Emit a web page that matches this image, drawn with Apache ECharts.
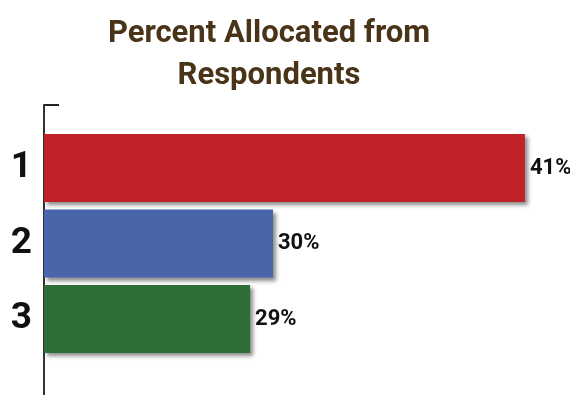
<!DOCTYPE html>
<html>
<head>
<meta charset="utf-8">
<script src="https://cdn.jsdelivr.net/npm/echarts@6/dist/echarts.min.js"></script>
<style>
  html, body { margin: 0; padding: 0; background: #fff; }
  #chart { width: 570px; height: 395px; }
</style>
</head>
<body>
<div id="chart"></div>
<script>
// Share of allocation reported by respondents, by rank
const categories = ['1', '2', '3'];
const percentValues = [41, 30, 29];
const barColors = ['#c1222a', '#4a66aa', '#2d6e38'];

const FONT = 'Roboto, "Liberation Sans", sans-serif';

const chart = echarts.init(document.getElementById('chart'), null, { renderer: 'canvas' });

chart.setOption({
  animation: false,
  backgroundColor: '#ffffff',
  title: {
    text: 'Percent Allocated from\nRespondents',
    left: 264,
    top: 8,
    textAlign: 'center',
    textStyle: {
      fontFamily: FONT,
      fontSize: 31,
      fontWeight: 'bold',
      color: '#4a3418',
      lineHeight: 42
    }
  },
  grid: [
    // frame carrying the long vertical axis line
    { left: 44, top: 105, width: 10, height: 330, outerBoundsMode: 'none' },
    // bars
    { left: 44, top: 130.25, right: 22.2, height: 226.5, outerBoundsMode: 'none' }
  ],
  xAxis: [
    { gridIndex: 0, type: 'value', show: false, min: 0, max: 1 },
    { gridIndex: 1, type: 'value', show: false, min: 20, max: 42 }
  ],
  yAxis: [
    {
      gridIndex: 0,
      type: 'value',
      min: 0,
      max: 1,
      interval: 1,
      axisLine: { show: true, lineStyle: { color: '#333', width: 2 } },
      axisTick: { show: true, inside: true, length: 15, lineStyle: { color: '#222', width: 2 } },
      axisLabel: { show: false },
      splitLine: { show: false }
    },
    {
      gridIndex: 1,
      type: 'category',
      data: categories,
      inverse: true,
      axisLine: { show: false },
      axisTick: { show: false },
      splitLine: { show: false },
      axisLabel: {
        margin: 12,
        fontFamily: FONT,
        fontSize: 37,
        fontWeight: 'bold',
        color: '#111'
      }
    }
  ],
  series: [
    {
      type: 'bar',
      xAxisIndex: 1,
      yAxisIndex: 1,
      barWidth: 68,
      data: percentValues.map((v, i) => ({
        value: v,
        itemStyle: { color: barColors[i] }
      })),
      itemStyle: {
        shadowColor: 'rgba(0,0,0,0.45)',
        shadowBlur: 4,
        shadowOffsetX: 3,
        shadowOffsetY: 3
      },
      label: {
        show: true,
        position: 'right',
        distance: 5,
        formatter: '{c}%',
        fontFamily: FONT,
        fontSize: 22,
        fontWeight: 'bold',
        color: '#111'
      }
    }
  ]
});
</script>
</body>
</html>
